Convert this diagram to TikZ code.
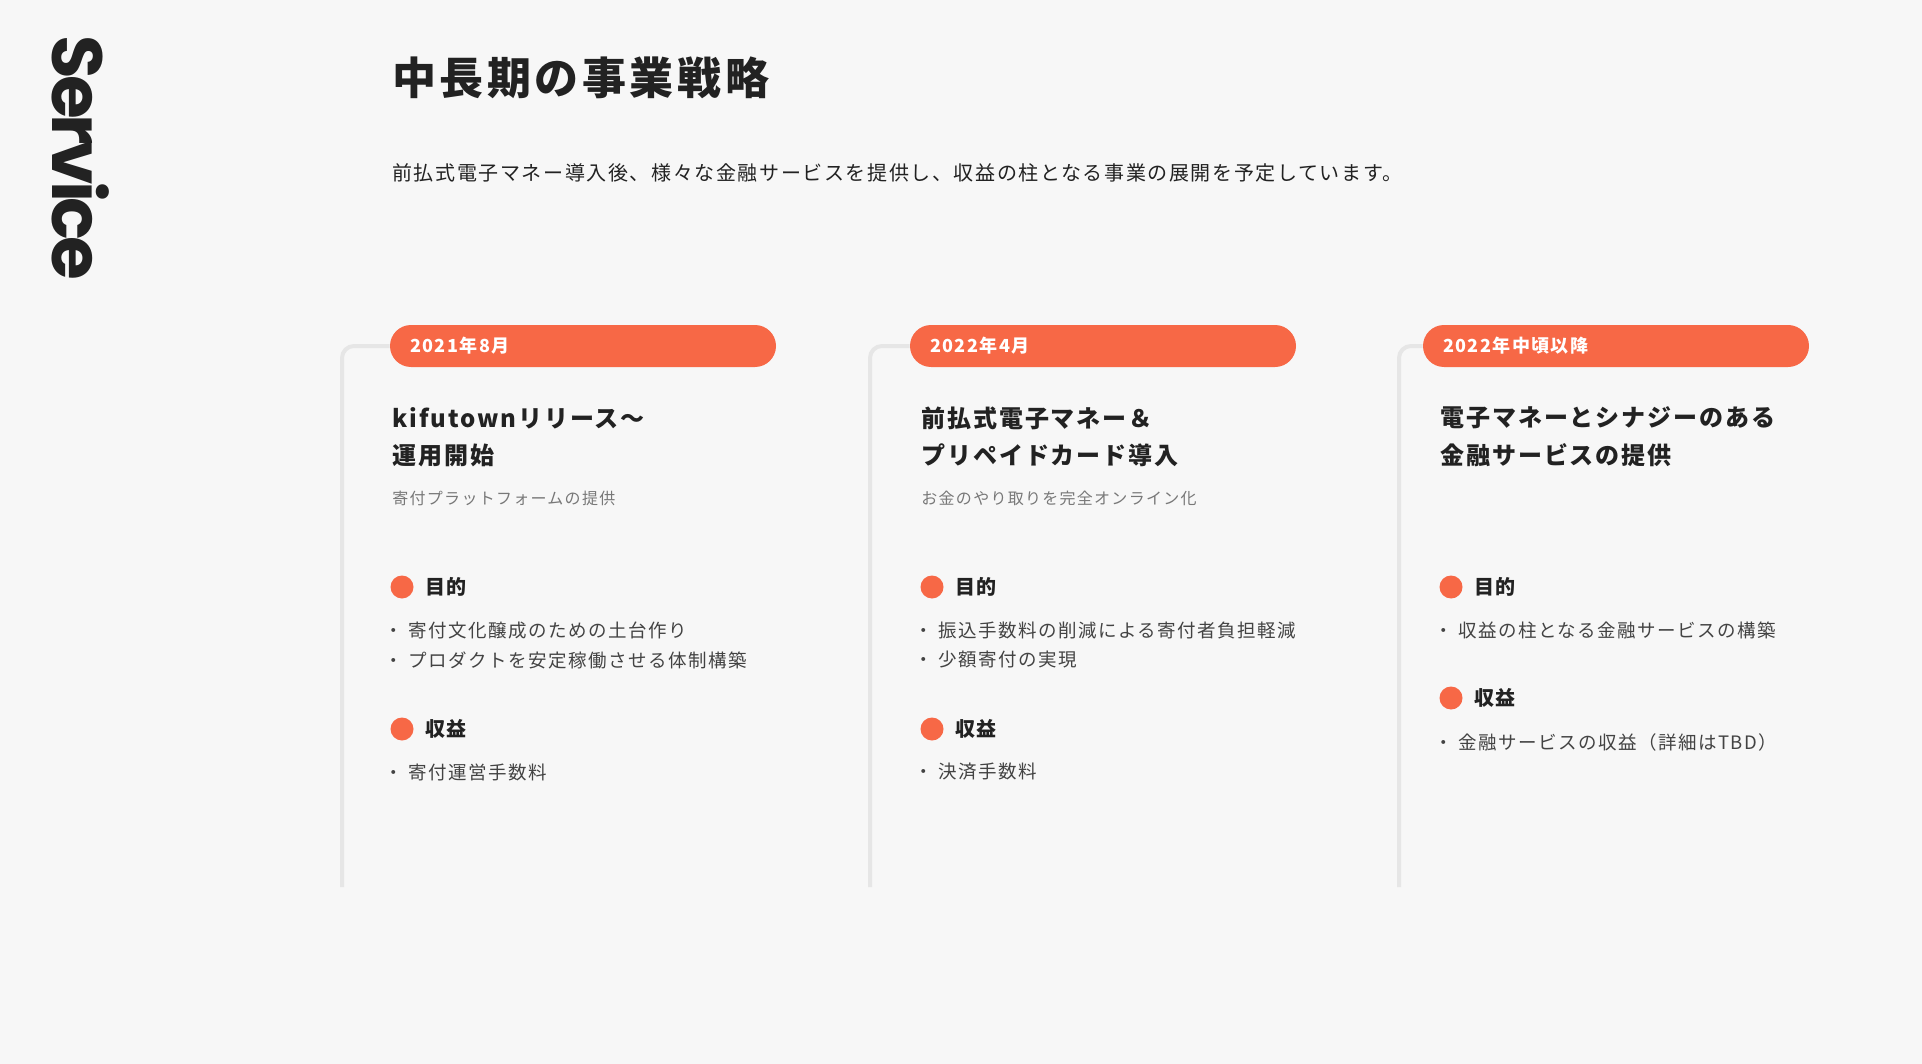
\documentclass[tikz,border=0pt]{standalone}
\usepackage{fontspec}
\setmainfont{Noto Sans CJK JP}[LetterSpace=8]
\newfontfamily\svcfont{Poppins}[LetterSpace=-6]
\usepackage{tikz}
\usetikzlibrary{positioning}
\definecolor{bgcol}{HTML}{F7F7F7}
\definecolor{accent}{HTML}{F76846}
\definecolor{ink}{HTML}{222222}
\definecolor{subgray}{HTML}{787878}
\definecolor{railgray}{HTML}{E6E6E6}

\begin{document}
\begin{tikzpicture}[%
	x=0.5pt, y=-0.5pt,
	every node/.style={inner sep=0pt, text=ink},
	pill/.style={fill=accent, rounded corners=10.5pt, text width=173pt,
		inner xsep=10pt, minimum height=21pt, align=left, text=white,
		font=\fontsize{9}{11}\selectfont\bfseries},
	rail/.style={draw=railgray, line width=2pt, rounded corners=6pt},
	head/.style={anchor=west, font=\fontsize{12}{14}\selectfont\bfseries},
	lead/.style={anchor=west, text=subgray, font=\fontsize{8}{10}\selectfont},
	dot/.style={circle, fill=accent, minimum size=11.5pt},
	lbl/.style={font=\fontsize{10}{12}\selectfont\bfseries},
	item/.style={anchor=west, text=ink!85, font=\fontsize{9.25}{11}\selectfont}
	]
	\fill[bgcol] (0,0) rectangle (1922,1064);
	\useasboundingbox (0,0) rectangle (1922,1064);
	
	\node[rotate=-90, font=\svcfont\fontsize{35.5}{36}\selectfont\bfseries] (svc) at (81,158) {Service};
	
	\node[anchor=west, font=\fontsize{22}{26}\selectfont\bfseries] (title) at (392,78) {中長期の事業戦略};
	\node[anchor=west, font=\fontsize{10}{12}\selectfont] (intro) at (392,173) {前払式電子マネー導入後、様々な金融サービスを提供し、収益の柱となる事業の展開を予定しています。};
	
	% pills
	\node[pill] (p1) at (583,346) {2021年8月};
	\node[pill] (p2) at (1103,346) {2022年4月};
	\node[pill] (p3) at (1616,346) {2022年中頃以降};
	
	\draw[rail] (p1.west) -- (342,346) -- (342,887);
	\draw[rail] (p2.west) -- (870,346) -- (870,887);
	\draw[rail] (p3.west) -- (1399,346) -- (1399,887);
	
	% column 1
	\node[head] (h1a) at (392,418) {kifutownリリース〜};
	\node[head] (h1b) at (392,455) {運用開始};
	\node[lead] (s1) at (392,498) {寄付プラットフォームの提供};
	\node[dot] (d1a) at (402,587) {};
	\node[lbl, right=5.5pt of d1a] (l1a) {目的};
	\node[item] (i1a) at (384,630) {・ 寄付文化醸成のための土台作り};
	\node[item] (i1b) at (384,660) {・ プロダクトを安定稼働させる体制構築};
	\node[dot] (d1b) at (402,729) {};
	\node[lbl, right=5.5pt of d1b] (l1b) {収益};
	\node[item] (i1c) at (384,772) {・ 寄付運営手数料};
	
	% column 2
	\node[head] (h2a) at (921,418) {前払式電子マネー＆};
	\node[head] (h2b) at (921,455) {プリペイドカード導入};
	\node[lead] (s2) at (921,498) {お金のやり取りを完全オンライン化};
	\node[dot] (d2a) at (932,587) {};
	\node[lbl, right=5.5pt of d2a] (l2a) {目的};
	\node[item] (i2a) at (914,630) {・ 振込手数料の削減による寄付者負担軽減};
	\node[item] (i2b) at (914,660) {・ 少額寄付の実現};
	\node[dot] (d2b) at (932,729) {};
	\node[lbl, right=5.5pt of d2b] (l2b) {収益};
	\node[item] (i2c) at (914,772) {・ 決済手数料};
	
	% column 3
	\node[head] (h3a) at (1440,418) {電子マネーとシナジーのある};
	\node[head] (h3b) at (1440,455) {金融サービスの提供};
	\node[dot] (d3a) at (1451,587) {};
	\node[lbl, right=5.5pt of d3a] (l3a) {目的};
	\node[item] (i3a) at (1434,630) {・ 収益の柱となる金融サービスの構築};
	\node[dot] (d3b) at (1451,698) {};
	\node[lbl, right=5.5pt of d3b] (l3b) {収益};
	\node[item] (i3b) at (1434,742) {・ 金融サービスの収益（詳細はTBD）};
\end{tikzpicture}
\end{document}
